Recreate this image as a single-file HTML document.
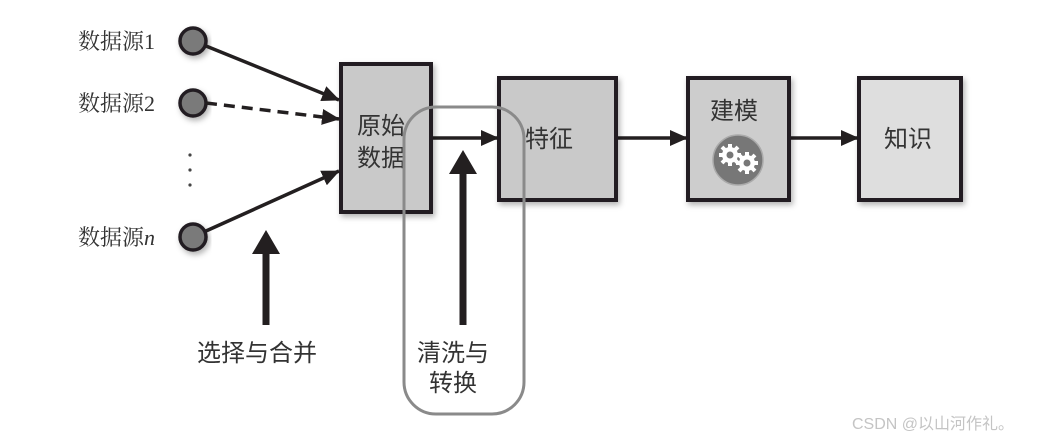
<!DOCTYPE html>
<html><head><meta charset="utf-8"><style>
html,body{margin:0;padding:0;background:#fff;}
svg{display:block;}
text{font-family:"Liberation Serif","Noto Serif CJK SC","Noto Sans CJK SC",serif;fill:#333;}
.s{font-family:'Noto Sans CJK SC',sans-serif;}
</style></head><body>
<svg width="1058" height="439" viewBox="0 0 1058 439" xmlns="http://www.w3.org/2000/svg">
<defs>
<marker id="ah" markerWidth="18" markerHeight="16" refX="17" refY="8" orient="auto" markerUnits="userSpaceOnUse" viewBox="0 0 18 16">
<path d="M0,0 L18,8 L0,16 z" fill="#231f20"/></marker>
<filter id="sh" x="-20%" y="-20%" width="140%" height="140%"><feDropShadow dx="2" dy="3" stdDeviation="3" flood-color="#000" flood-opacity="0.3"/></filter>
</defs>
<g font-size="22">
<text x="78" y="49">数据源1</text>
<text x="78" y="111">数据源2</text>
<text x="78" y="245">数据源<tspan font-style="italic">n</tspan></text>
</g>
<g fill="#7a7a7a" stroke="#231f20" stroke-width="3.5" filter="url(#sh)">
<circle cx="193" cy="41" r="13"/><circle cx="193" cy="103" r="13"/><circle cx="193" cy="237" r="13"/>
</g>
<g fill="#444"><circle cx="190" cy="155" r="1.6"/><circle cx="190" cy="170" r="1.6"/><circle cx="190" cy="185" r="1.6"/></g>
<g stroke="#231f20" fill="none" stroke-width="3.5">
<line x1="206" y1="46" x2="339" y2="100" marker-end="url(#ah)"/>
<line x1="206" y1="103" x2="339" y2="119" marker-end="url(#ah)" stroke-dasharray="11,7"/>
<line x1="206" y1="231" x2="339" y2="171" marker-end="url(#ah)"/>
<line x1="432" y1="138" x2="498" y2="138" marker-end="url(#ah)"/>
<line x1="617" y1="138" x2="687" y2="138" marker-end="url(#ah)"/>
<line x1="790" y1="138" x2="858" y2="138" marker-end="url(#ah)"/>
</g>
<g stroke="#231f20" stroke-width="4" filter="url(#sh)">
<rect x="341" y="64" width="90" height="148" fill="#c9c9c9"/>
<rect x="499" y="78" width="117" height="122" fill="#c9c9c9"/>
<rect x="688" y="78" width="101" height="122" fill="#cdcdcd"/>
<rect x="859" y="78" width="102" height="122" fill="#dedede"/>
</g>
<g font-size="24">
<text class="s" x="357" y="134">原始</text>
<text class="s" x="357" y="166">数据</text>
<text class="s" x="525" y="147">特征</text>
<text class="s" x="710" y="119">建模</text>
<text class="s" x="884" y="147">知识</text>
</g>
<circle cx="738" cy="160" r="25" fill="#777" stroke="#aaa" stroke-width="1.5"/>
<g fill="#fff">
<circle cx="730" cy="155" r="8"/><circle cx="747" cy="163" r="8"/>
<g stroke="#fff" stroke-width="4">
<line x1="730" y1="144" x2="730" y2="166"/><line x1="719" y1="155" x2="741" y2="155"/>
<line x1="722" y1="147" x2="738" y2="163"/><line x1="738" y1="147" x2="722" y2="163"/>
<line x1="747" y1="152" x2="747" y2="174"/><line x1="736" y1="163" x2="758" y2="163"/>
<line x1="739" y1="155" x2="755" y2="171"/><line x1="755" y1="155" x2="739" y2="171"/>
</g>
</g>
<circle cx="730" cy="155" r="3.5" fill="#777"/><circle cx="747" cy="163" r="3.5" fill="#777"/>
<rect x="404" y="107" width="120" height="307" rx="32" ry="32" fill="none" stroke="#8a8a8a" stroke-width="3"/>
<g stroke="#231f20" stroke-width="7">
<line x1="266" y1="325" x2="266" y2="250"/>
<line x1="463" y1="325" x2="463" y2="170"/>
</g>
<path d="M252,254 L266,230 L280,254 z" fill="#231f20"/>
<path d="M449,174 L463,150 L477,174 z" fill="#231f20"/>
<g font-size="24">
<text class="s" x="197" y="361">选择与合并</text>
<text class="s" x="417" y="361">清洗与</text>
<text class="s" x="429" y="391">转换</text>
</g>
<text x="852" y="429" font-size="16" style="font-family:'Liberation Sans','Noto Sans CJK SC',sans-serif;fill:#c4c4c4">CSDN @以山河作礼。</text>
</svg>
</body></html>
